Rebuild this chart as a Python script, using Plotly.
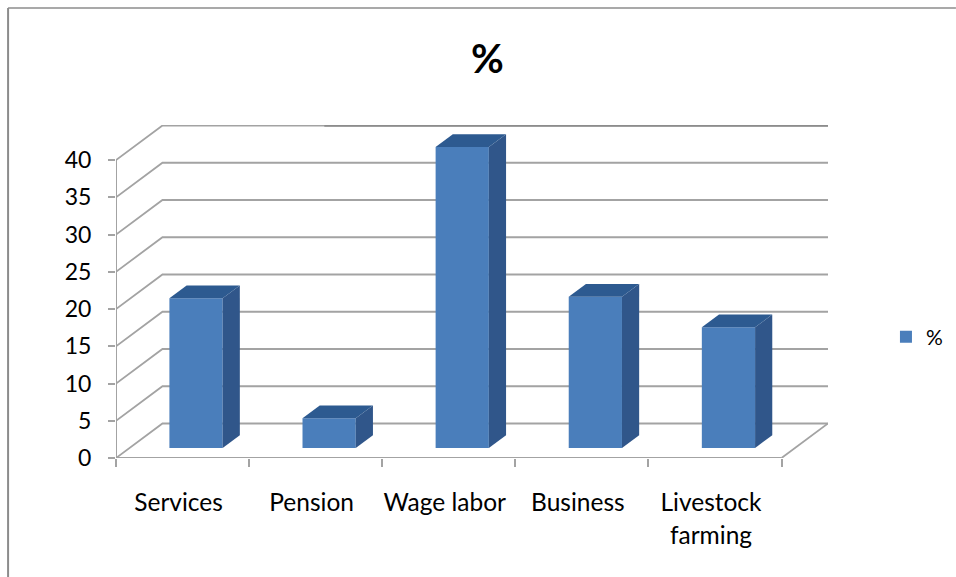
import plotly.graph_objects as go

categories = ["Services", "Pension", "Wage labor", "Business", "Livestock"]
second_line = ["", "", "", "", "farming"]
values = [20.1, 4, 40.4, 20.3, 16.2]
y_ticks = [0, 5, 10, 15, 20, 25, 30, 35, 40]
series_name = "%"
title_text = "%"

W, H = 956, 577
L, R, T, B = 115.5, 828, 125, 458
band_px = 133.2
unit_px = 7.45
wall_dx = 46.5 / band_px      # depth of the 3D box along x, data units
wall_dy = 34.5 / unit_px      # depth of the 3D box along y, data units
x0, x1 = -0.5, len(categories) - 0.5
bar_w = 0.4
near = 0.29                   # bar front depth fraction
far = 0.66                    # bar back depth fraction

GRID = "#a3a3a3"
FRONT = "#4a7ebb"
SIDE = "#30568a"
TOP = "#2d5a90"
TEXT = "#000000"
FONT = "Lato, Carlito, Calibri, sans-serif"


def px_x(p):
    return (p - L) / (R - L)


def px_y(p):
    return 1 - (p - T) / (B - T)


fig = go.Figure()

base = near * wall_dy
shift = near * wall_dx
fig.add_trace(go.Bar(
    x=[i + shift for i in range(len(values))], y=values, base=base, width=bar_w,
    name=series_name, marker=dict(color=FRONT, line=dict(width=0)), showlegend=True,
))

dx = (far - near) * wall_dx
dy = (far - near) * wall_dy
for i, v in enumerate(values):
    a = i + shift - bar_w / 2
    b = i + shift + bar_w / 2
    top = base + v
    fig.add_trace(go.Scatter(
        x=[b, b + dx, b + dx, b, b], y=[base, base + dy, top + dy, top, base],
        mode="lines", fill="toself", fillcolor=SIDE, line=dict(width=0),
        showlegend=False, hoverinfo="skip"))
    fig.add_trace(go.Scatter(
        x=[a, a + dx, b + dx, b, a], y=[top, top + dy, top + dy, top, top],
        mode="lines", fill="toself", fillcolor=TOP, line=dict(width=0),
        showlegend=False, hoverinfo="skip"))

shapes = []
for v in y_ticks:
    shapes.append(dict(
        type="path", layer="below", xref="x", yref="y",
        path=f"M{x0},{v} L{x0 + wall_dx},{v + wall_dy} L{x1 + wall_dx},{v + wall_dy}",
        line=dict(color=GRID, width=1.8)))
# the top back edge is heavier on its right part
shapes.append(dict(type="line", layer="below", xref="x", yref="y",
                   x0=x0 + (324 - L) / band_px, y0=max(y_ticks) + wall_dy,
                   x1=x1 + wall_dx, y1=max(y_ticks) + wall_dy,
                   line=dict(color="#8c8c8c", width=2.6)))
# floor edge and axes
shapes.append(dict(type="line", layer="below", xref="x", yref="y", x0=x1, y0=0,
                   x1=x1 + wall_dx, y1=wall_dy, line=dict(color=GRID, width=1.8)))
shapes.append(dict(type="line", layer="below", xref="x", yref="y", x0=x0, y0=0,
                   x1=x1, y1=0, line=dict(color=GRID, width=2)))
shapes.append(dict(type="line", layer="below", xref="x", yref="y", x0=x0, y0=0,
                   x1=x0, y1=max(y_ticks), line=dict(color=GRID, width=2)))
# chart frame
shapes.append(dict(type="line", xref="paper", yref="paper", x0=px_x(7.5), y0=px_y(8),
                   x1=px_x(956), y1=px_y(8), line=dict(color="#8c8c8c", width=1.5)))
shapes.append(dict(type="line", xref="paper", yref="paper", x0=px_x(7.5), y0=px_y(8),
                   x1=px_x(7.5), y1=px_y(577), line=dict(color="#8c8c8c", width=2)))

annotations = [
    dict(text=title_text, xref="paper", yref="paper", x=px_x(487.5), y=px_y(57.5),
         xanchor="center", yanchor="middle", showarrow=False,
         font=dict(family=FONT, size=40, color=TEXT, weight="bold")),
]
for i, t in enumerate(second_line):
    if t:
        annotations.append(dict(text=t, xref="x", yref="paper", x=i, y=px_y(534),
                                xanchor="center", yanchor="middle", showarrow=False, xshift=-4,
                                font=dict(family=FONT, size=24.5, color=TEXT)))

fig.update_layout(
    width=W, height=H,
    margin=dict(l=L, r=W - R, t=T, b=H - B, pad=0, autoexpand=False),
    paper_bgcolor="white", plot_bgcolor="white",
    shapes=shapes, annotations=annotations,
    showlegend=True,
    legend=dict(x=px_x(886), y=px_y(337), xanchor="left", yanchor="middle",
                font=dict(family=FONT, size=21, color=TEXT), bgcolor="rgba(0,0,0,0)"),
    xaxis=dict(
        range=[x0, x1 + wall_dx], tickmode="array", tickvals=list(range(len(categories))),
        ticktext=categories, ticks="", showgrid=False, zeroline=False, showline=False,
        ticklabelstandoff=27, ticklabelshift=-4, automargin=False,
        tickfont=dict(family=FONT, size=24.5, color=TEXT),
        minor=dict(tickmode="array", tickvals=[i - 0.5 for i in range(len(categories) + 1)],
                   ticks="outside", ticklen=8, tickwidth=2, tickcolor=GRID, showgrid=False),
    ),
    yaxis=dict(
        range=[0, (B - T) / unit_px], tickmode="array", tickvals=y_ticks,
        ticks="outside", ticklen=7, tickwidth=2, tickcolor=GRID, showgrid=False,
        zeroline=False, showline=False, automargin=False, ticklabelstandoff=12,
        tickfont=dict(family=FONT, size=23, color=TEXT),
    ),
)

fig.write_html("out.html", post_script="document.body.style.margin='0';",
               config={"displayModeBar": False})
